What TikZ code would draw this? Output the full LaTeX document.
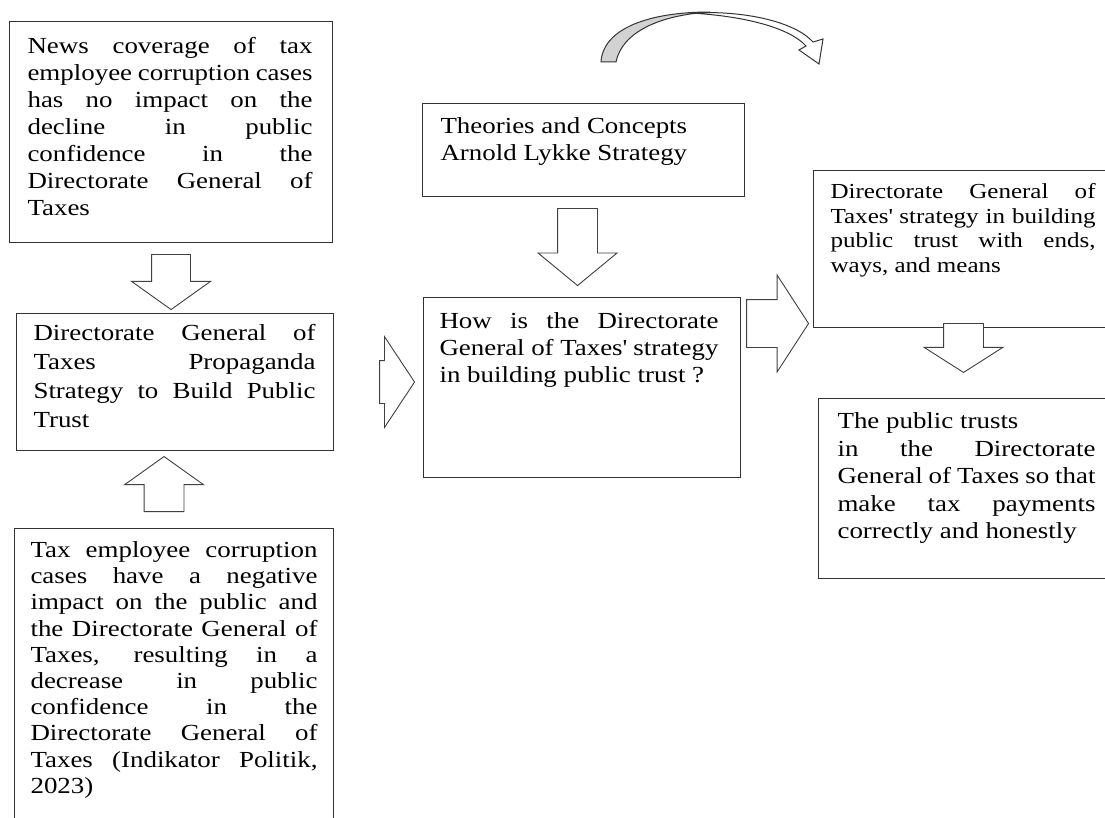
\documentclass[tikz,border=0pt]{standalone}
\usepackage{fontspec}
\setmainfont{Liberation Serif}[FakeStretch=1.17]
\usetikzlibrary{shapes.arrows}
\hyphenpenalty=10000
\exhyphenpenalty=10000
\hfuzz=40pt
\hbadness=10000

\begin{document}
\begin{tikzpicture}[
    x=1pt, y=-1pt,
    box/.style={rectangle, draw=black!80, line width=1.1pt, anchor=north west, inner sep=0pt, align=justify, font=\fontsize{23}{27}\selectfont},
    pad/.style 2 args={execute at begin node={\leftskip=#1pt\rightskip=#2pt}},
    lead/.style={font=\fontsize{23}{#1}\selectfont},
    barrow/.style n args={3}{single arrow, draw=black!75, line width=0.9pt, fill=white, inner sep=0pt, single arrow head extend=#1, minimum height=#2, single arrow tip angle=#3, anchor=tail},
    curved/.style={draw=black!80, line width=1pt}
]
\path[use as bounding box, fill=white] (0,0) rectangle (1105,818);

% boxes
\node[box, pad={18}{20}, text width=323pt, text height=32pt, text depth=189pt] (news) at (9,21)
  {News coverage of tax\linebreak employee corruption cases\linebreak has no impact on the\linebreak decline in public\linebreak confidence in the\linebreak Directorate General of\linebreak Taxes};
\node[box, lead=29, pad={17}{18}, text width=317pt, text height=27pt, text depth=110pt] (prop) at (16,313)
  {Directorate General of\linebreak Taxes Propaganda\linebreak Strategy to Build Public\linebreak Trust};
\node[box, lead=26.2, pad={16}{16}, text width=319pt, text height=29pt, text depth=273pt] (cases) at (14,528)
  {Tax employee corruption\linebreak cases have a negative\linebreak impact on the public and\linebreak the Directorate General of\linebreak Taxes, resulting in a\linebreak decrease in public\linebreak confidence in the\linebreak Directorate General of\linebreak Taxes (Indikator Politik,\linebreak 2023)};
\node[box, pad={18}{20}, text width=322pt, text height=30pt, text depth=63pt] (theory) at (422,103)
  {Theories and Concepts\newline Arnold Lykke Strategy};
\node[box, pad={16}{22}, text width=317pt, text height=31pt, text depth=149pt] (question) at (423,297)
  {How is the Directorate\linebreak General of Taxes\textquotesingle{} strategy\linebreak in building public trust ?};
\node[box, font=\fontsize{21.4}{24.7}\selectfont, pad={17}{20}, text width=302pt, text height=28pt, text depth=129pt] (ends) at (813,170)
  {Directorate General of\linebreak Taxes\textquotesingle{} strategy in building\linebreak public trust with ends,\linebreak ways, and means};
\node[box, lead=27.5, pad={19}{20}, text width=297pt, text height=30pt, text depth=150pt] (trust) at (818,398)
  {The public trusts\newline in the Directorate\linebreak General of Taxes so that\linebreak make tax payments\linebreak correctly and honestly};

% block arrows
\node[barrow={20}{55}{109}, inner xsep=19pt, shape border rotate=270] (a1) at ([yshift=-11pt]news.south) {};
\node[barrow={19.5}{55}{109}, inner xsep=19.5pt, shape border rotate=90] (a2) at ([xshift=-10pt, yshift=16pt]cases.north) {};
\node[barrow={24}{35}{113}, inner ysep=21pt] (a3) at ([xshift=45pt]prop.east) {};
\node[barrow={19.5}{77}{101}, inner xsep=19.5pt, shape border rotate=270] (a4) at ([xshift=-6pt, yshift=-11pt]theory.south) {};
\node[barrow={24.5}{62}{114}, inner ysep=23.5pt] (a5) at ([xshift=5pt, yshift=-26.5pt]question.north east) {};
\node[barrow={19.5}{49}{115}, inner xsep=19.5pt, shape border rotate=270] (a6) at (963.5,323) {};

% curved arrow at the top
\draw[curved, fill=white] (690,13) .. controls (745,10) and (795,22) .. (813,42)
  -- (823,39) -- (819,64) -- (799,50) -- (806,46)
  .. controls (790,28) and (745,16) .. (690,13) -- cycle;
\draw[curved, fill=gray!35] (601,62) .. controls (603,28) and (650,12) .. (710,12)
  .. controls (660,15) and (622,32) .. (616,62) -- cycle;
\end{tikzpicture}
\end{document}
